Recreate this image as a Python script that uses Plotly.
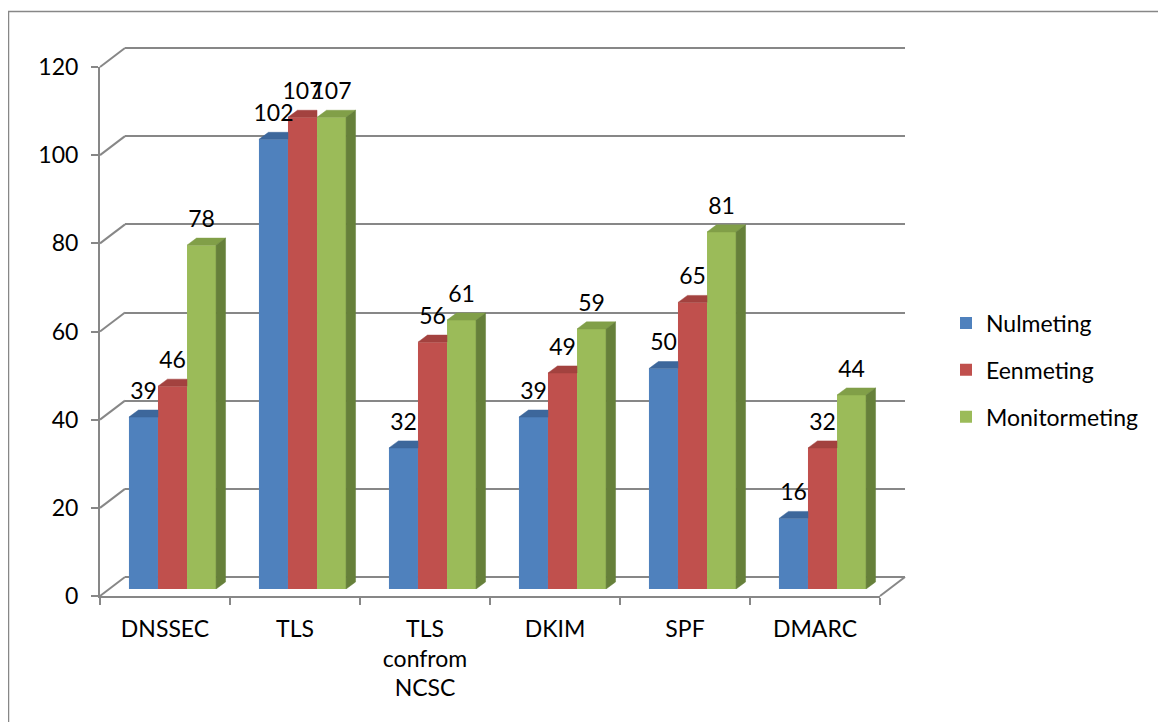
import plotly.graph_objects as go

# ---------------- data ----------------
categories = ["DNSSEC", "TLS", "TLS<br>confrom<br>NCSC", "DKIM", "SPF", "DMARC"]
series_names = ["Nulmeting", "Eenmeting", "Monitormeting"]
nulmeting = [39, 102, 32, 39, 50, 16]
eenmeting = [46, 107, 56, 49, 65, 32]
monitormeting = [78, 107, 61, 59, 81, 44]
y_ticks = [0, 20, 40, 60, 80, 100, 120]

series = [nulmeting, eenmeting, monitormeting]

# ---------------- styles ----------------
FONT = "Lato"
FS = 23
GRID = "#878787"
front_colors = ["#4F81BD", "#C0504D", "#9BBB59"]
top_colors = ["#3D679B", "#A3423F", "#819F48"]
side_colors = ["#3A5F8D", "#8F3936", "#66803A"]

# page offset (browser body margin)
OFF_X, OFF_Y = 8, 7
FIG_W, FIG_H = 1166, 722
PADPX = 4                    # spare px so the edge gridlines are not clipped
W, H = 805.0, 548.0 + PADPX  # plot region in px
L = 100 - OFF_X
T = 47 - OFF_Y - PADPX
FRONT_W, FRONT_H = 780.0, 529.0
BACK_DX, BACK_DY = 25.0, 19.0
BAR_DX, BAR_DY = 7.5, 7.0
BARGAP = 0.33
DEPTH_X = 0.073   # depth of columns in category units
DEPTH_Y = 1.6     # depth of columns in value units
LABEL_PAD = 1.2   # extra gap above column tops, value units


def fx(xpx):  # reference-pixel x -> paper
    return (xpx - OFF_X - L) / W


def fy(ypx):  # reference-pixel y -> paper
    return (T + H - (ypx - OFF_Y)) / H


ymax = y_ticks[-1]
pad_u = PADPX * ymax / FRONT_H
idx = list(range(len(categories)))
xr = [-0.5, len(categories) - 0.5]

fig = go.Figure()

# anchor trace for back wall subplot (drawn first, beneath everything)
fig.add_trace(go.Scatter(x=[xr[0]], y=[0], xaxis="x", yaxis="y", mode="markers",
                         marker=dict(opacity=0), showlegend=False, hoverinfo="skip"))

# columns (front faces)
for s, (name, vals) in enumerate(zip(series_names, series)):
    fig.add_trace(go.Bar(
        x=idx, y=vals, name=name, xaxis="x2", yaxis="y2",
        marker=dict(color=front_colors[s], line=dict(width=0)),
        legendgroup=name, hoverinfo="skip",
    ))

# 3D faces + labels
n = len(series)
bw = (1 - BARGAP) / n
for s, vals in enumerate(series):
    nxt = series[s + 1] if s + 1 < n else None
    tx, ty, sx, sy, lx, ly = [], [], [], [], [], []
    for i, v in enumerate(vals):
        x0 = i - (1 - BARGAP) / 2 + s * bw
        x1 = x0 + bw
        if nxt is not None and nxt[i] >= v:
            tx += [x0, x1, x1, x0 + DEPTH_X, x0, None]
            ty += [v, v, v + DEPTH_Y, v + DEPTH_Y, v, None]
        else:
            tx += [x0, x1, x1 + DEPTH_X, x0 + DEPTH_X, x0, None]
            ty += [v, v, v + DEPTH_Y, v + DEPTH_Y, v, None]
            lo = 0 if nxt is None else nxt[i]
            sx += [x1, x1 + DEPTH_X, x1 + DEPTH_X, x1, x1, None]
            sy += [lo, lo + DEPTH_Y, v + DEPTH_Y, v, lo, None]
        lx.append(x0 + bw / 2)
        ly.append(v + DEPTH_Y + LABEL_PAD)
    fig.add_trace(go.Scatter(x=tx, y=ty, xaxis="x2", yaxis="y2", mode="lines",
                             fill="toself", fillcolor=top_colors[s],
                             line=dict(width=0.5, color=top_colors[s]),
                             showlegend=False, hoverinfo="skip"))
    if sx:
        fig.add_trace(go.Scatter(x=sx, y=sy, xaxis="x2", yaxis="y2", mode="lines",
                                 fill="toself", fillcolor=side_colors[s],
                                 line=dict(width=0.5, color=side_colors[s]),
                                 showlegend=False, hoverinfo="skip"))
    fig.add_trace(go.Scatter(x=lx, y=ly, xaxis="x2", yaxis="y2", mode="text",
                             text=[str(v) for v in vals], textposition="top center",
                             textfont=dict(family=FONT, size=FS, color="black"),
                             cliponaxis=False, showlegend=False, hoverinfo="skip"))

# anchor trace for front axes
fig.add_trace(go.Scatter(x=[xr[0]], y=[0], xaxis="x3", yaxis="y3", mode="markers",
                         marker=dict(opacity=0), showlegend=False, hoverinfo="skip"))

# ---------------- axes ----------------
fig.update_layout(
    xaxis=dict(domain=[BACK_DX / W, 1], range=xr, showgrid=False, zeroline=False,
               showticklabels=False, showline=False, ticks="", anchor="y"),
    yaxis=dict(domain=[(BACK_DY - PADPX) / H, (BACK_DY + FRONT_H + PADPX) / H],
               range=[-pad_u, ymax + pad_u], tickvals=y_ticks,
               showgrid=True, gridcolor=GRID, gridwidth=2, zeroline=False,
               showticklabels=False, showline=False, ticks="", anchor="x"),
    xaxis2=dict(domain=[BAR_DX / W, (BAR_DX + FRONT_W) / W], range=xr, visible=False,
                anchor="y2"),
    yaxis2=dict(domain=[BAR_DY / H, (BAR_DY + FRONT_H) / H], range=[0, ymax],
                visible=False, anchor="x2"),
    xaxis3=dict(domain=[0, FRONT_W / W], range=xr, anchor="y3",
                showline=True, linecolor=GRID, linewidth=2, showgrid=False,
                zeroline=False, tickvals=idx, ticktext=categories, ticks="",
                tickfont=dict(family=FONT, size=FS, color="black"),
                ticklabelstandoff=11,
                minor=dict(tickvals=[i - 0.5 for i in range(len(categories) + 1)],
                           ticks="outside", ticklen=7, tickcolor=GRID, tickwidth=2,
                           showgrid=False)),
    yaxis3=dict(domain=[0, FRONT_H / H], range=[0, ymax], anchor="x3",
                tickvals=y_ticks, showline=True, linecolor=GRID, linewidth=2,
                showgrid=False, zeroline=False, ticks="outside", ticklen=7,
                tickcolor=GRID, tickwidth=2, ticklabelstandoff=8,
                tickfont=dict(family=FONT, size=FS, color="black")),
)

# left-wall diagonals and right floor diagonal
shapes = []
for k in y_ticks:
    f = k / ymax
    shapes.append(dict(type="line", xref="paper", yref="paper",
                       x0=0, y0=f * FRONT_H / H,
                       x1=BACK_DX / W, y1=(BACK_DY + f * FRONT_H) / H,
                       line=dict(color=GRID, width=2)))
shapes.append(dict(type="line", xref="paper", yref="paper",
                   x0=FRONT_W / W, y0=0, x1=1, y1=BACK_DY / H,
                   line=dict(color=GRID, width=2)))
# outer chart border
shapes.append(dict(type="rect", xref="paper", yref="paper",
                   x0=fx(8.5), x1=fx(1190), y0=fy(760), y1=fy(10.5),
                   line=dict(color=GRID, width=1.5), fillcolor="rgba(0,0,0,0)",
                   layer="below"))

fig.update_layout(
    shapes=shapes,
    width=FIG_W, height=FIG_H,
    margin=dict(l=L, r=FIG_W - L - int(W), t=T, b=FIG_H - T - int(H), pad=0,
                autoexpand=False),
    paper_bgcolor="white", plot_bgcolor="rgba(0,0,0,0)",
    barmode="group", bargap=BARGAP, bargroupgap=0,
    font=dict(family=FONT, size=FS, color="black"),
    legend=dict(x=fx(946), xanchor="left", y=fy(369), yanchor="middle",
                font=dict(family=FONT, size=FS, color="black"),
                tracegroupgap=14, bgcolor="rgba(0,0,0,0)"),
    showlegend=True,
)

fig.write_html("out.html")
